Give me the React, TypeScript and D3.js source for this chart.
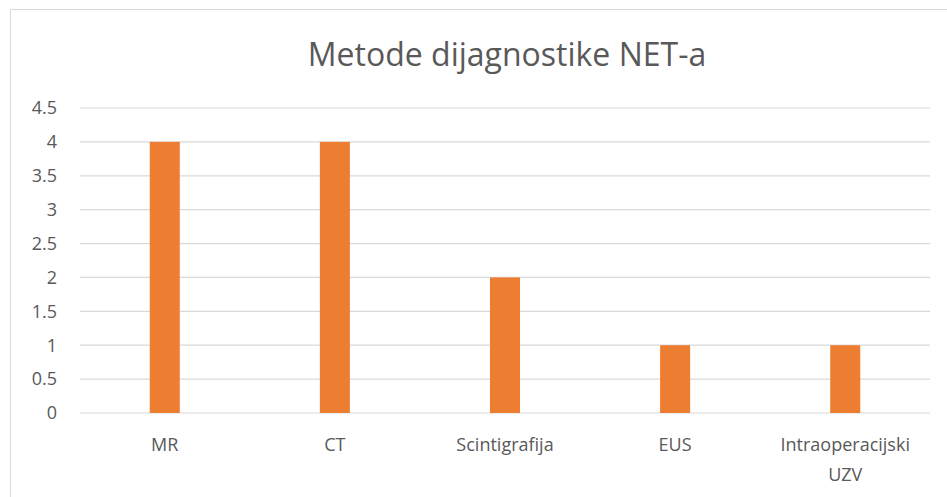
import React from "react";
import * as d3 from "d3";

const categories = ["MR", "CT", "Scintigrafija", "EUS", "Intraoperacijski UZV"];
const values = [4, 4, 2, 1, 1];
const yTicks = [0, 0.5, 1, 1.5, 2, 2.5, 3, 3.5, 4, 4.5];
const title = "Metode dijagnostike NET-a";

const W = 947;
const H = 497;
const left = 80;
const right = 930;
const top = 108;
const bottom = 413;
const font = "'Open Sans', 'DejaVu Sans', sans-serif";
const textColor = "#595959";

export default function App() {
  const x = d3
    .scaleBand<string>()
    .domain(categories)
    .range([left, right])
    .paddingInner(0.8235)
    .paddingOuter(0.41);
  const y = d3.scaleLinear().domain([0, 4.5]).range([bottom, top]);

  // split long labels into two lines, like the original
  const lines = (c: string) => (c.length > 14 ? c.split(" ") : [c]);

  return (
    <svg
      width={W}
      height={H}
      style={{ position: "fixed", left: 0, top: 0, background: "#fff", display: "block" }}
      fontFamily={font}
    >
      <rect x={10.5} y={9.5} width={950} height={500} fill="#fff" stroke="#d9d9d9" />

      <text x={507} y={66} textAnchor="middle" fontSize={32} fill={textColor}>
        {title}
      </text>

      {yTicks.map((t) => (
        <g key={t}>
          <line x1={left} x2={right} y1={y(t)} y2={y(t)} stroke="#d9d9d9" strokeWidth={1.2} />
          <text x={57} y={y(t)} dy="0.35em" textAnchor="end" fontSize={18} fill={textColor}>
            {t}
          </text>
        </g>
      ))}

      {categories.map((c, i) => (
        <rect
          key={c}
          x={x(c)}
          y={y(values[i])}
          width={x.bandwidth()}
          height={y(0) - y(values[i])}
          fill="#ed7d31"
        />
      ))}

      {categories.map((c) => (
        <text
          key={c}
          x={(x(c) ?? 0) + x.bandwidth() / 2}
          y={451}
          textAnchor="middle"
          fontSize={18}
          fill={textColor}
        >
          {lines(c).map((l, j) => (
            <tspan key={j} x={(x(c) ?? 0) + x.bandwidth() / 2} dy={j === 0 ? 0 : 30}>
              {l}
            </tspan>
          ))}
        </text>
      ))}
    </svg>
  );
}
